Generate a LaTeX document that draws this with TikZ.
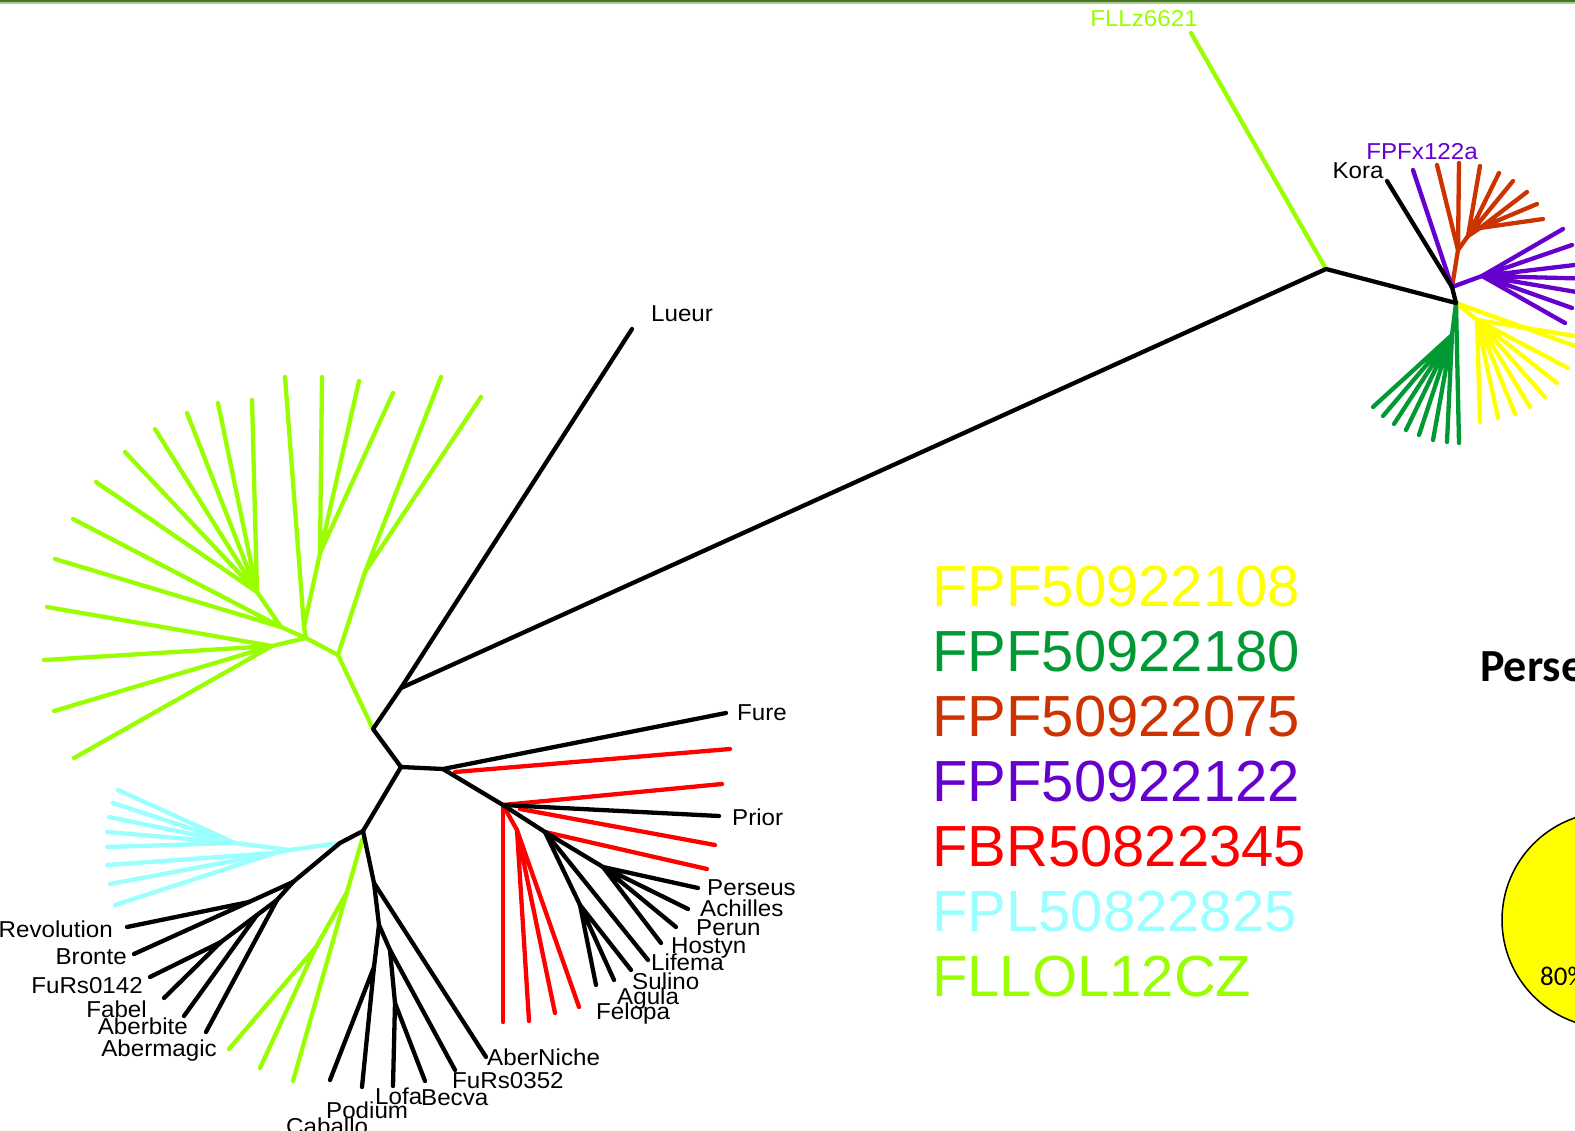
\documentclass[tikz,border=0pt]{standalone}
\usepackage{fontspec}
\setmainfont{Liberation Sans}
\newfontfamily\calfont{Carlito}
\definecolor{cyel}{RGB}{255,255,0}
\definecolor{cgrn}{RGB}{0,153,51}
\definecolor{corg}{RGB}{204,51,0}
\definecolor{cpur}{RGB}{102,0,204}
\definecolor{cred}{RGB}{255,0,0}
\definecolor{ccya}{RGB}{153,255,255}
\definecolor{clim}{RGB}{153,255,0}
\definecolor{barA}{RGB}{70,120,40}
\definecolor{barB}{RGB}{170,205,140}
\begin{document}
\begin{tikzpicture}[x=1pt,y=-1pt,
 br/.style={line width=4.3pt,line cap=round,line join=round},
 lbl/.style={font=\fontsize{23}{25}\selectfont,inner sep=0pt,text height=16.5pt,text depth=0pt,xscale=1.05},
 leg/.style={font=\fontsize{58}{60}\selectfont,inner sep=0pt,anchor=west,text height=41.5pt,text depth=0pt}]
\useasboundingbox (0,0) rectangle (1575,1131);
\clip (0,0) rectangle (1575,1131);
\fill[white] (0,0) rectangle (1575,1131);
\draw[barA,line width=2pt] (0,1) -- (1575,1);
\draw[barB,line width=2pt] (0,3) -- (1575,3);

% ---------- backbone coordinates ----------
\coordinate (J1) at (373,729);
\coordinate (J2) at (401,688);
\coordinate (J3) at (1326,269);
\coordinate (J4) at (1456,303);
\coordinate (J5) at (1452,287);
\coordinate (J6) at (401,767);
\coordinate (J7) at (443,769);
\coordinate (J8) at (503,805);
\coordinate (J9) at (363,831);

% ---------- left lime subtree ----------
\coordinate (gA) at (338,655);
\coordinate (gB) at (365,572);
\coordinate (gC) at (306,638);
\coordinate (gD) at (304,627);
\coordinate (gE) at (320,553);
\coordinate (gF) at (272,646);
\coordinate (gG) at (281,627);
\coordinate (gH) at (257,592);
\draw[br,clim] (J1) -- (gA) -- (gB);
\draw[br,clim] (gA) -- (gC) -- (gD) -- (gE);
\draw[br,clim] (gB) -- (441,377) coordinate (gb1) (gB) -- (481,397) coordinate (gb2);
\draw[br,clim] (gD) -- (285,377) coordinate (gd1);
\draw[br,clim] (gE) -- (322,377) coordinate (ge1) (gE) -- (359,381) coordinate (ge2) (gE) -- (393,393) coordinate (ge3);
\draw[br,clim] (gC) -- (gF);
\draw[br,clim] (gF) -- (47,607) coordinate (gf1) (gF) -- (44,660) coordinate (gf2) (gF) -- (54,711) coordinate (gf3) (gF) -- (74,758) coordinate (gf4);
\draw[br,clim] (gC) -- (gG) -- (gH);
\draw[br,clim] (gG) -- (55,559) coordinate (gg1) (gG) -- (73,519) coordinate (gg2);
\draw[br,clim] (gH) -- (96,482) coordinate (gh1) (gH) -- (125,452) coordinate (gh2) (gH) -- (155,429) coordinate (gh3) (gH) -- (187,413) coordinate (gh4) (gH) -- (218,403) coordinate (gh5) (gH) -- (252,400) coordinate (gh6);

% ---------- top right cluster ----------
\coordinate (oA) at (1458,250);
\coordinate (oB) at (1468,236);
\coordinate (oC) at (1480,228);
\coordinate (pA) at (1482,276);
\coordinate (yA) at (1477,320);
\coordinate (nA) at (1452,335);
\draw[br,clim] (J3) -- (1191,33) coordinate (fllz);
\draw[br,corg] (J5) -- (oA) -- (oB) -- (oC);
\draw[br,corg] (oA) -- (1437,165) coordinate (o1) (oA) -- (1459,163) coordinate (o2)
  (oB) -- (1480,166) coordinate (o3) (oB) -- (1499,173) coordinate (o4) (oB) -- (1513,181) coordinate (o5)
  (oC) -- (1527,192) coordinate (o6) (oC) -- (1537,204) coordinate (o7) (oC) -- (1543,219) coordinate (o8);
\draw[br,cpur] (J5) -- (1413,170) coordinate (fpfx);
\draw[br,cpur] (J5) -- (pA);
\draw[br,cpur] (pA) -- (1563,229) coordinate (p1) (pA) -- (1572,245) coordinate (p2) (pA) -- (1600,262) coordinate (p3)
  (pA) -- (1600,279) coordinate (p4) (pA) -- (1600,296) coordinate (p5) (pA) -- (1572,308) coordinate (p6) (pA) -- (1565,323) coordinate (p7);
\draw[br,cyel] (J4) -- (yA);
\draw[br,cyel] (J4) -- (1600,355) coordinate (y0);
\draw[br,cyel] (yA) -- (1480,422) coordinate (y1) (yA) -- (1498,418) coordinate (y2) (yA) -- (1515,414) coordinate (y3)
  (yA) -- (1530,407) coordinate (y4) (yA) -- (1545,397) coordinate (y5) (yA) -- (1557,383) coordinate (y6)
  (yA) -- (1568,368) coordinate (y7) (yA) -- (1600,340) coordinate (y8);
\draw[br,cgrn] (J4) -- (nA);
\draw[br,cgrn] (J4) -- (1459,443) coordinate (n8);
\draw[br,cgrn] (nA) -- (1373,407) coordinate (n1) (nA) -- (1383,416) coordinate (n2) (nA) -- (1394,424) coordinate (n3)
  (nA) -- (1406,430) coordinate (n4) (nA) -- (1419,435) coordinate (n5) (nA) -- (1433,440) coordinate (n6) (nA) -- (1447,442) coordinate (n7);
\draw[br] (J5) -- (1387,181) coordinate (kora);

% ---------- middle red/black ----------
\coordinate (rD) at (517,830);
\coordinate (bJ1) at (545,832);
\coordinate (bJ2) at (603,867);
\coordinate (bJ3) at (580,905);
\draw[br,cred] (455,772) coordinate (r0) -- (730,749) coordinate (r1);
\draw[br,cred] (J8) -- (722,784) coordinate (r2);
\draw[br,cred] (520,809) coordinate (r3s) -- (715,845) coordinate (r3);
\draw[br,cred] (bJ1) -- (707,869) coordinate (r4);
\draw[br,cred] (J8) -- (503,1022) coordinate (r5);
\draw[br,cred] (J8) -- (rD);
\draw[br,cred] (rD) -- (529,1021) coordinate (r6) (rD) -- (555,1013) coordinate (r7) (rD) -- (579,1007) coordinate (r8);
\draw[br] (J6) -- (J7) -- (726,713) coordinate (fure);
\draw[br] (J7) -- (J8) -- (719,816) coordinate (prior);
\draw[br] (J8) -- (bJ1) -- (bJ2);
\draw[br] (bJ2) -- (698,888) coordinate (b1) (bJ2) -- (688,909) coordinate (b2) (bJ2) -- (676,927) coordinate (b3) (bJ2) -- (661,943) coordinate (b4);
\draw[br] (bJ1) -- (648,960) coordinate (b5);
\draw[br] (bJ1) -- (bJ3);
\draw[br] (bJ3) -- (631,970) coordinate (b6) (bJ3) -- (614,980) coordinate (b7) (bJ3) -- (596,985) coordinate (b8);

% ---------- bottom left ----------
\coordinate (cJ) at (340,843);
\coordinate (cA) at (290,850);
\coordinate (cB) at (235,843);
\coordinate (cC) at (275,853);
\draw[br,ccya] (cJ) -- (cA) -- (cB) (cA) -- (cC);
\draw[br,ccya] (cB) -- (118,790) coordinate (c1) (cB) -- (113,803) coordinate (c2) (cB) -- (109,817) coordinate (c3)
  (cB) -- (107,832) coordinate (c4) (cB) -- (107,847) coordinate (c5)
  (cC) -- (107,865) coordinate (c6) (cC) -- (110,884) coordinate (c7) (cC) -- (115,905) coordinate (c8);
\coordinate (kA) at (293,882);
\coordinate (kB) at (249,902);
\coordinate (kC) at (277,900);
\coordinate (kD) at (257,915);
\coordinate (kE) at (221,942);
\draw[br] (J9) -- (cJ) -- (kA) -- (kB);
\draw[br] (kB) -- (127,927) coordinate (k1) (kB) -- (134,954) coordinate (k2);
\draw[br] (kA) -- (kC) -- (kD) -- (kE);
\draw[br] (kE) -- (150,977) coordinate (k3) (kE) -- (164,998) coordinate (k4);
\draw[br] (kD) -- (184,1016) coordinate (k5) (kC) -- (206,1032) coordinate (k6);
\coordinate (q1) at (362,840);
\coordinate (q2) at (347,892);
\coordinate (q3) at (316,947);
\draw[br,clim] (q1) -- (q2) -- (q3);
\draw[br,clim] (q3) -- (229,1049) coordinate (q4) (q3) -- (260,1068) coordinate (q5) (q2) -- (293,1081) coordinate (q6);
\coordinate (bb1) at (374,883);
\coordinate (bb2) at (379,925);
\coordinate (bb3) at (390,950);
\coordinate (bb4) at (395,1003);
\coordinate (bb5) at (374,967);
\draw[br] (J9) -- (bb1) -- (bb2) -- (bb3) -- (bb4);
\draw[br] (bb1) -- (486,1057) coordinate (aberniche);
\draw[br] (bb3) -- (455,1070) coordinate (furs352);
\draw[br] (bb4) -- (393,1086) coordinate (lofa) (bb4) -- (425,1081) coordinate (becva);
\draw[br] (bb2) -- (bb5);
\draw[br] (bb5) -- (330,1080) coordinate (caballo) (bb5) -- (362,1087) coordinate (podium);

% ---------- backbone black ----------
\draw[br] (J6) -- (J1) -- (J2) -- (632,329) coordinate (lueur);
\draw[br] (J2) -- (J3) -- (J4) -- (J5);
\draw[br] (J6) -- (J9);

% ---------- labels ----------
\node[lbl,anchor=west] (tLueur) at (651,313) {Lueur};
\node[lbl,clim] (tFLLz) at (1144,18) {FLLz6621};
\node[lbl] (tKora) at (1358,170) {Kora};
\node[lbl,cpur] (tFPFx) at (1422,151) {FPFx122a};
\node[lbl,anchor=west] (tFure) at (737,712) {Fure};
\node[lbl,anchor=west] (tPrior) at (732,817) {Prior};
\node[lbl,anchor=west] (tPerseus) at (707,887) {Perseus};
\node[lbl,anchor=west] (tAchilles) at (700,908) {Achilles};
\node[lbl,anchor=west] (tPerun) at (696,927) {Perun};
\node[lbl,anchor=west] (tHostyn) at (671,945) {Hostyn};
\node[lbl,anchor=west] (tLifema) at (651,962) {Lifema};
\node[lbl,anchor=west] (tSulino) at (632,981) {Sulino};
\node[lbl,anchor=west] (tAgula) at (617,996) {Agula};
\node[lbl,anchor=west] (tFelopa) at (596,1011) {Felopa};
\node[lbl,anchor=east] (tRevolution) at (113,929) {Revolution};
\node[lbl,anchor=east] (tBronte) at (127,956) {Bronte};
\node[lbl,anchor=east] (tFuRs0142) at (143,985) {FuRs0142};
\node[lbl,anchor=east] (tFabel) at (147,1009) {Fabel};
\node[lbl,anchor=east] (tAberbite) at (188,1026) {Aberbite};
\node[lbl,anchor=east] (tAbermagic) at (217,1048) {Abermagic};
\node[lbl,anchor=west] (tAberNiche) at (487,1057) {AberNiche};
\node[lbl,anchor=west] (tFuRs0352) at (452,1080) {FuRs0352};
\node[lbl,anchor=west] (tLofa) at (375,1096) {Lofa};
\node[lbl,anchor=west] (tBecva) at (421,1097) {Becva};
\node[lbl,anchor=west] (tPodium) at (326,1110) {Podium};
\node[lbl,anchor=west] (tCaballo) at (286,1126) {Caballo};

% ---------- legend ----------
\node[leg,cyel] (L1) at (932,586) {FPF50922108};
\node[leg,cgrn] (L2) at (932,651) {FPF50922180};
\node[leg,corg] (L3) at (932,716) {FPF50922075};
\node[leg,cpur] (L4) at (932,781) {FPF50922122};
\node[leg,cred] (L5) at (932,846) {FBR50822345};
\node[leg,ccya] (L6) at (932,911) {FPL50822825};
\node[leg,clim] (L7) at (932,976) {FLLOL12CZ};

% ---------- right side ----------
\node[font=\calfont\bfseries\fontsize{46}{50}\selectfont,anchor=west,inner sep=0pt,text height=29.6pt,text depth=0pt] (tPerse) at (1480,667) {Perse};
\draw[fill=cyel,line width=1.5pt] (1610,920) circle[radius=108];
\node[font=\calfont\fontsize{27}{30}\selectfont,anchor=west,inner sep=0pt,text height=17pt,text depth=0pt] (t80) at (1540,977) {80\%};
\end{tikzpicture}
\end{document}
